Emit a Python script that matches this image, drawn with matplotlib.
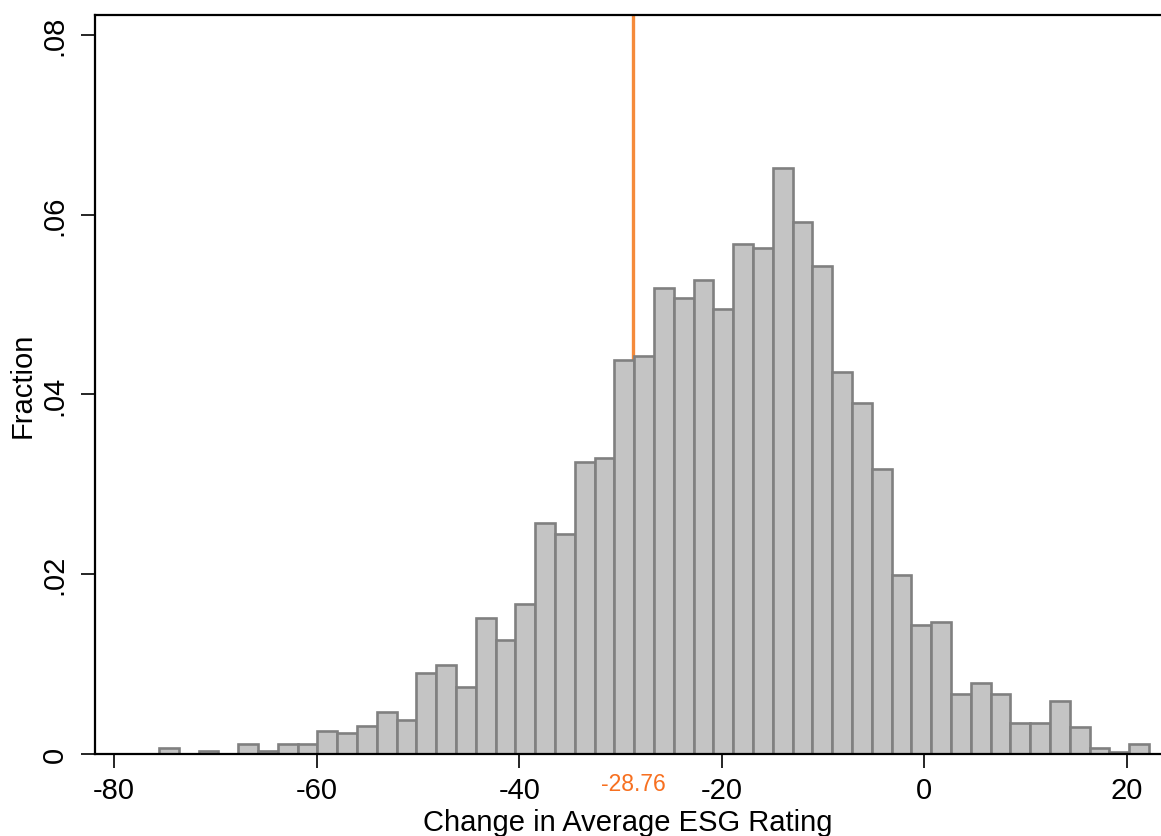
import matplotlib
matplotlib.use('Agg')
import numpy as np
import matplotlib.pyplot as plt

plt.rcParams['font.family'] = ['Liberation Sans', 'DejaVu Sans']
plt.rcParams['axes.unicode_minus'] = False

# histogram: 50 bins, fraction in each bin
bin_start = -75.56
bin_width = 1.9546
fractions = [0.0007, 0.0000, 0.0003, 0.0000, 0.0011, 0.0003, 0.0011, 0.0011, 0.0026, 0.0023,
             0.0031, 0.0047, 0.0038, 0.0090, 0.0099, 0.0075, 0.0151, 0.0127, 0.0167, 0.0257,
             0.0245, 0.0325, 0.0329, 0.0438, 0.0443, 0.0518, 0.0507, 0.0527, 0.0495, 0.0567,
             0.0563, 0.0652, 0.0592, 0.0543, 0.0425, 0.0390, 0.0317, 0.0199, 0.0143, 0.0147,
             0.0067, 0.0079, 0.0067, 0.0035, 0.0035, 0.0059, 0.0030, 0.0007, 0.0002, 0.0011]
mean_change = -28.76

x_ticks = [-80, -60, -40, -20, 0, 20]
y_ticks = [0, 0.02, 0.04, 0.06, 0.08]
y_ticklabels = ['0', '.02', '.04', '.06', '.08']

lefts = bin_start + bin_width * np.arange(len(fractions))

fig = plt.figure(figsize=(11.61, 8.37), dpi=100)
ax = fig.add_axes([95 / 1161, 82 / 837, 1066 / 1161, 739 / 837])

ax.bar(lefts, fractions, width=bin_width, align='edge',
       color='#c4c4c4', edgecolor='#808080', linewidth=1.9, zorder=2)
ax.axvline(mean_change, color='#f58a3a', linewidth=2.4, zorder=1.5)
ax.annotate(f'{mean_change:.2f}', xy=(mean_change, 0),
            xycoords=('data', 'axes fraction'), xytext=(0, -21),
            textcoords='offset points', ha='center', va='center',
            fontsize=16.5, color='#f77020')

ax.set_xlim(-81.88, 23.36)
ax.set_ylim(0, 0.0822)
ax.set_xticks(x_ticks)
ax.set_yticks(y_ticks)
ax.set_yticklabels(y_ticklabels, rotation=90, va='center')

ax.tick_params(axis='both', labelsize=21, length=10, width=1.2, color='black')
ax.tick_params(axis='x', pad=6)
ax.tick_params(axis='y', pad=9)

for s in ['left', 'bottom', 'top']:
    ax.spines[s].set_linewidth(1.6)
ax.spines['right'].set_visible(False)

ax.set_xlabel('Change in Average ESG Rating', fontsize=21, labelpad=3)
ax.set_ylabel('Fraction', fontsize=21, labelpad=3)

fig.savefig('out.png', dpi=100)
